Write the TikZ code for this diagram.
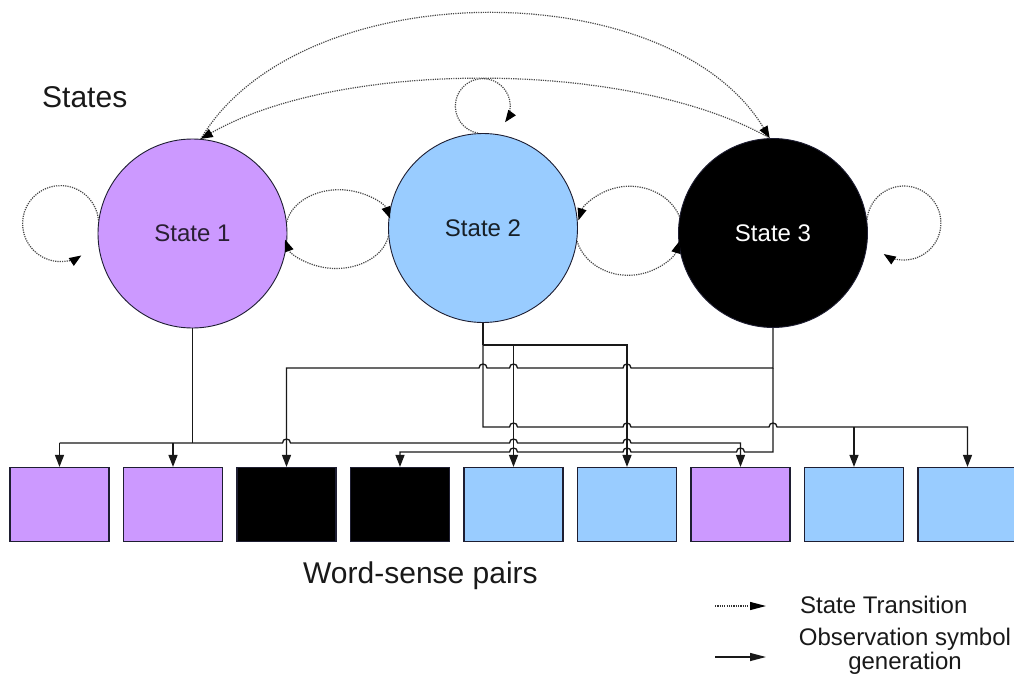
\documentclass[tikz,border=0pt]{standalone}
\usepackage{fontspec}
\setmainfont{Liberation Sans}
\usetikzlibrary{arrows.meta}

\definecolor{lilac}{HTML}{CC99FF}
\definecolor{sky}{HTML}{99CCFF}
\definecolor{rim}{HTML}{1E1E32}

% line jumps: a small half-circle bridge over a crossing wire
\newcommand\hopR[2]{-- (#1-4,#2) .. controls (#1-4,#2+5.3) and (#1+4,#2+5.3) .. (#1+4,#2)}
\newcommand\hopL[2]{-- (#1+4,#2) .. controls (#1+4,#2+5.3) and (#1-4,#2+5.3) .. (#1-4,#2)}

\begin{document}
\begin{tikzpicture}[x=1pt,y=1pt,
  state/.style={circle, draw=rim, line width=0.9pt, minimum size=189pt, inner sep=0pt,
                font=\fontsize{24}{28}\selectfont},
  pair/.style={rectangle, draw=rim, line width=1.2pt, minimum width=99pt,
               minimum height=74pt, inner sep=0pt},
  wire/.style={line width=1.3pt, black!90},
  tip/.style={-{Triangle[length=12pt,width=9pt]}},
  trans/.style={line width=1.2pt, black!72, dash pattern=on 1.2pt off 1.1pt,
                -{Triangle[length=12pt,width=9pt,color=black]}},
  label/.style={inner sep=0pt, text=black!90},
]
\fill[white] (0,0) rectangle (1014,-682);
\useasboundingbox (0,0) rectangle (1014,-682);

% hidden states
\node[state, fill=lilac, text=lilac!20!black] (s1) at (192.5,-233.5) {State 1};
\node[state, fill=sky, text=sky!15!black] (s2) at (483,-228) {State 2};
\node[state, fill=black, text=white] (s3) at (773,-233) {State 3};

% observed word-sense pairs
\foreach \i/\c in {1/lilac,2/lilac,3/black,4/black,5/sky,6/sky,7/lilac,8/sky,9/sky}
  \node[pair, fill=\c] (b\i) at ({59.5+113.5*(\i-1)},-504.5) {};

% wiring levels
\coordinate (yB) at (0,-345);
\coordinate (yC) at (0,-368);
\coordinate (yE) at (0,-427);
\coordinate (yA) at (0,-443);
\coordinate (yD) at (0,-452);

% State 1 -> pairs 1, 2, 7
\draw[wire] (s1.south) -- (s1.south |- yA);
\draw[wire,tip] (b1.north |- yA) \hopR{286.5}{-443} \hopR{513.5}{-443} \hopR{627}{-443}
  -- (b7.north |- yA) -- (b7.north);
\draw[wire,tip] (b1.north |- yA) -- (b1.north);
\draw[wire,tip] (b2.north |- yA) -- (b2.north);

% State 3 -> pairs 3, 4
\draw[wire,tip] (s3.south) -- (s3.south |- yC) \hopL{627}{-368} \hopL{513.5}{-368} \hopL{483}{-368}
  -- (b3.north |- yC) -- (b3.north);
\draw[wire,tip] (s3.south |- yC) -- (s3.south |- yD) \hopL{740.5}{-452} \hopL{627}{-452} \hopL{513.5}{-452}
  -- (b4.north |- yD) -- (b4.north);

% State 2 -> pairs 5, 6, 8, 9
\draw[wire] (s2.south) -- (s2.south |- yB);
\draw[wire,tip] (s2.south |- yB) -- (b6.north |- yB) -- (b6.north);
\draw[wire,tip] (b5.north |- yB) -- (b5.north);
\draw[wire,tip] (s2.south |- yB) -- (s2.south |- yE) \hopR{513.5}{-427} \hopR{627}{-427} \hopR{773}{-427}
  -- (b9.north |- yE) -- (b9.north);
\draw[wire,tip] (b8.north |- yE) -- (b8.north);

% self transitions
\draw[trans] (s1.172) arc[start angle=5, end angle=303, radius=38];
\draw[trans] (s3.8) arc[start angle=175, end angle=-123, radius=37];
\draw[trans] (s2.93) arc[start angle=-100, end angle=-396, radius=27.5];

% transitions between neighbouring states
\draw[trans] (s1.7) arc[start angle=170, end angle=15, x radius=53, y radius=39];
\draw[trans] (s2.185) arc[start angle=-10, end angle=-165, x radius=53, y radius=39];
\draw[trans] (s3.170) arc[start angle=20, end angle=165, x radius=53, y radius=46];
\draw[trans] (s2.-8) arc[start angle=195, end angle=345, x radius=53, y radius=46];

% transitions between State 1 and State 3
\draw[trans] (s1.85) .. controls (300,28) and (670,28) .. (s3.92);
\draw[trans] (s3.92) .. controls (630,-59) and (340,-59) .. (s1.85);

% captions
\node[label, anchor=base west, font=\fontsize{30}{36}\selectfont] (cstates) at (42,-108) {States};
\node[label, anchor=base west, font=\fontsize{30}{36}\selectfont] (cpairs) at (303,-583) {Word-sense pairs};

% legend
\coordinate (lta) at (715,-606);
\coordinate (ltb) at (766,-606);
\coordinate (loa) at (715,-657);
\coordinate (lob) at (766,-657);
\draw[trans, black!80, -{Triangle[length=16pt,width=8pt,color=black]}] (lta) -- (ltb);
\draw[wire, -{Triangle[length=16pt,width=8pt]}] (loa) -- (lob);
\node[label, anchor=base west, font=\fontsize{24}{28}\selectfont] (ltrans) at (800,-613) {State Transition};
\node[label, anchor=base, font=\fontsize{24}{28}\selectfont] (lobs1) at (905,-645) {Observation symbol};
\node[label, anchor=base, font=\fontsize{24}{28}\selectfont] (lobs2) at (905,-669) {generation};
\end{tikzpicture}
\end{document}
